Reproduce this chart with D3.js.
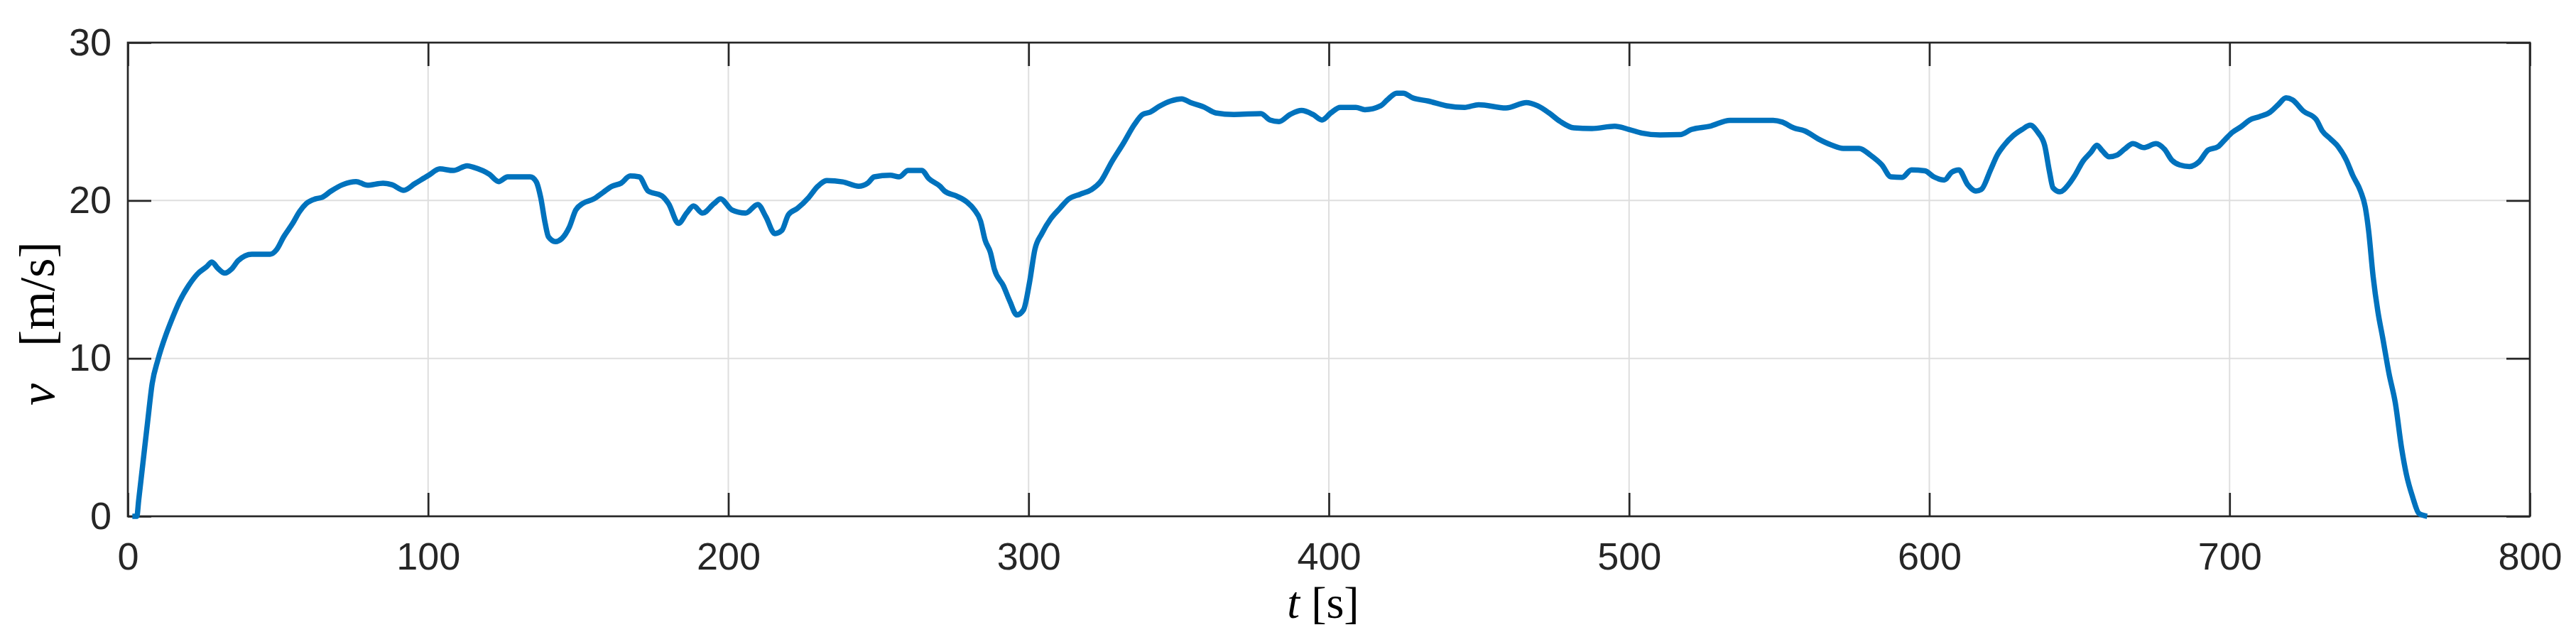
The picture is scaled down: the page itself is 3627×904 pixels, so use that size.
<!DOCTYPE html>
<html>
<head>
<meta charset="utf-8">
<script src="https://cdn.jsdelivr.net/npm/d3@7"></script>
<style>
  html, body { margin: 0; padding: 0; background: #fff; }
</style>
</head>
<body>
<div id="chart"></div>
<script>
// speed profile
const time = [1.5, 3.0, 3.6, 5.1, 6.6, 8.1, 10, 12.7, 14.2, 17.2, 20.2, 23.2, 26.2, 28, 30, 32.3, 34.5, 36.8, 41.3, 47.4,
  49.6, 51.9, 54.9, 57.2, 59.4, 62.4, 64.7, 67.7, 71.5, 76, 79.8, 85, 88, 91.9, 95.6, 100.2, 103.9, 108.4, 113, 115.2,
  120.5, 123.5, 126.5, 134, 136, 137.5, 139, 140.1, 142.4, 144.6, 147, 149.2, 151.4, 155.2, 158.2, 161.2, 164.3, 167.3, 170.3, 173.3,
  177.8, 180.1, 183.4, 186.1, 188.4, 191.4, 195.2, 197.4, 201.2, 205.7, 209.8, 212.5, 215.5, 217.8, 220, 223, 226.8, 229.8, 232.8, 238.1,
  243.4, 246.4, 248.6, 253.9, 256.9, 259.9, 264.5, 266.7, 270.5, 272, 275.8, 279.5, 281.8, 284, 285.5, 287.3, 288.6, 291.6, 293.8, 296.1,
  298.3, 300.3, 302.1, 304.4, 307.4, 310.4, 313.4, 317.2, 321, 324, 327.7, 331.5, 335.2, 338, 340.5, 343.5, 347.3, 351, 354, 358.6,
  362.3, 368.4, 377.4, 380.4, 383.4, 387.1, 390.9, 394.7, 397.7, 400.7, 403.8, 409, 412, 417.3, 419.6, 422.6, 424.8, 427.9, 433.1, 439.2,
  445.2, 449.9, 459, 465.8, 469.5, 473.3, 477.1, 481.6, 487.6, 495.2, 500, 504.2, 510.3, 517, 520.8, 526.8, 533.6, 548, 551, 554.8,
  558.6, 563, 567.6, 571.3, 576.6, 580.4, 584.2, 587.2, 591, 594, 598.5, 601.5, 605, 607.5, 609.8, 612.8, 615.5, 617.3, 620.4, 622.6,
  624.9, 627.9, 630.9, 633.6, 636.2, 638.4, 640, 641.2, 643.5, 646.3, 648.5, 651.2, 653.8, 655.8, 657.6, 659.9, 662.5, 665, 667.8, 671.4,
  675.5, 678.3, 680.8, 683.4, 686.6, 689.8, 692.9, 696.1, 698.2, 700.8, 704, 706.7, 709.8, 713.5, 716.2, 718.8, 720.9, 724.6, 728.8, 730.9,
  733.6, 736.2, 738.9, 741, 743.6, 745.2, 746.3, 747.8, 749.4, 751, 753.1, 755.2, 757.3, 758.9, 761, 763.1, 765.8];

const speed = [0, 0, 1.0, 3.5, 6.0, 8.4, 9.9, 11.5, 12.25, 13.6, 14.6, 15.35, 15.8, 16.1, 15.7, 15.4, 15.65, 16.2, 16.6, 16.6,
  16.9, 17.7, 18.55, 19.3, 19.8, 20.1, 20.2, 20.6, 21.0, 21.2, 20.97, 21.1, 21.0, 20.65, 21.07, 21.6, 22.0, 21.9, 22.2, 22.1,
  21.65, 21.2, 21.5, 21.5, 21.2, 20.2, 18.55, 17.7, 17.4, 17.6, 18.3, 19.4, 19.8, 20.1, 20.5, 20.9, 21.1, 21.55, 21.5, 20.6,
  20.3, 19.8, 18.55, 19.2, 19.65, 19.2, 19.8, 20.1, 19.4, 19.2, 19.75, 18.97, 17.9, 18.1, 19.1, 19.5, 20.2, 20.9, 21.26, 21.18,
  20.9, 21.1, 21.5, 21.6, 21.5, 21.9, 21.9, 21.4, 20.9, 20.6, 20.3, 19.9, 19.45, 18.7, 17.5, 16.7, 15.65, 14.6, 13.6, 12.75,
  13.07, 14.8, 16.9, 17.9, 18.85, 19.5, 20.1, 20.4, 20.7, 21.2, 22.45, 23.6, 24.8, 25.45, 25.6, 25.96, 26.3, 26.44, 26.2, 25.9,
  25.55, 25.45, 25.5, 25.1, 25.0, 25.45, 25.7, 25.45, 25.1, 25.55, 25.9, 25.9, 25.75, 26.0, 26.4, 26.8, 26.8, 26.5, 26.3, 26.0,
  25.9, 26.07, 25.86, 26.2, 26.0, 25.55, 25.0, 24.6, 24.56, 24.7, 24.5, 24.27, 24.15, 24.17, 24.5, 24.7, 25.08, 25.08, 24.97, 24.6,
  24.4, 23.9, 23.5, 23.3, 23.3, 22.87, 22.25, 21.5, 21.47, 21.94, 21.88, 21.5, 21.3, 21.8, 21.94, 21.0, 20.6, 20.7, 21.94, 22.87,
  23.5, 24.1, 24.5, 24.77, 24.3, 23.5, 21.84, 20.8, 20.55, 21.0, 21.6, 22.5, 23.05, 23.5, 23.15, 22.77, 22.88, 23.25, 23.6, 23.35,
  23.6, 23.25, 22.55, 22.25, 22.15, 22.45, 23.2, 23.4, 23.8, 24.3, 24.7, 25.1, 25.3, 25.6, 26.07, 26.5, 26.38, 25.66, 25.14, 24.4,
  23.9, 23.4, 22.55, 21.6, 20.6, 19.57, 18.1, 15.2, 12.96, 11.3, 9.04, 7.18, 4.3, 2.64, 1.2, 0.17, 0];

const xTicks = [0, 100, 200, 300, 400, 500, 600, 700, 800];
const yTicks = [0, 10, 20, 30];

const width = 3627;
const height = 904;
const margin = { top: 60, right: 65, bottom: 177, left: 180 };
const plotRight = width - margin.right;
const plotBottom = height - margin.bottom;

const axisColor = '#262626';
const tickLen = 33;

const svg = d3.select('#chart')
  .append('svg')
  .attr('width', width)
  .attr('height', height);

const x = d3.scaleLinear().domain([0, 800]).range([margin.left, plotRight]);
const y = d3.scaleLinear().domain([0, 30]).range([plotBottom, margin.top]);

// grid
svg.append('g')
  .selectAll('line')
  .data(xTicks.slice(1, -1))
  .join('line')
  .attr('x1', d => x(d)).attr('x2', d => x(d))
  .attr('y1', margin.top).attr('y2', plotBottom)
  .attr('stroke', '#dedede')
  .attr('stroke-width', 2);

svg.append('g')
  .selectAll('line')
  .data(yTicks.slice(1, -1))
  .join('line')
  .attr('x1', margin.left).attr('x2', plotRight)
  .attr('y1', d => y(d)).attr('y2', d => y(d))
  .attr('stroke', '#dedede')
  .attr('stroke-width', 2);

// axes, ticks pointing inwards like matlab
function styleAxis(g) {
  g.select('.domain').remove();
  g.selectAll('.tick line').attr('stroke', axisColor).attr('stroke-width', 2.7);
  g.selectAll('.tick text')
    .attr('fill', axisColor)
    .attr('font-family', '"Liberation Sans", Arial, Helvetica, sans-serif')
    .attr('font-size', 54);
}

svg.append('g')
  .attr('transform', `translate(0,${plotBottom})`)
  .call(d3.axisBottom(x).tickValues(xTicks).tickSize(-tickLen).tickPadding(37).tickFormat(d3.format('d')))
  .call(styleAxis);

svg.append('g')
  .attr('transform', `translate(0,${margin.top})`)
  .call(d3.axisTop(x).tickValues(xTicks).tickSize(-tickLen).tickFormat(''))
  .call(styleAxis);

svg.append('g')
  .attr('transform', `translate(${margin.left},0)`)
  .call(d3.axisLeft(y).tickValues(yTicks).tickSize(-tickLen).tickPadding(23).tickFormat(d3.format('d')))
  .call(styleAxis);

svg.append('g')
  .attr('transform', `translate(${plotRight},0)`)
  .call(d3.axisRight(y).tickValues(yTicks).tickSize(-tickLen).tickFormat(''))
  .call(styleAxis);

// box
svg.append('rect')
  .attr('x', margin.left)
  .attr('y', margin.top)
  .attr('width', plotRight - margin.left)
  .attr('height', plotBottom - margin.top)
  .attr('fill', 'none')
  .attr('stroke', axisColor)
  .attr('stroke-width', 2.7);

// speed line
const points = time.map((t, i) => [t, speed[i]]);
svg.append('path')
  .datum(points)
  .attr('fill', 'none')
  .attr('stroke', '#0072BD')
  .attr('stroke-width', 7.5)
  .attr('stroke-linejoin', 'round')
  .attr('d', d3.line()
    .x(d => x(d[0]))
    .y(d => y(d[1]))
    .curve(d3.curveMonotoneX));

// axis labels
const serif = '"Liberation Serif", "Times New Roman", Times, serif';

const xLabel = svg.append('text')
  .attr('x', (margin.left + plotRight) / 2 - 8)
  .attr('y', 870)
  .attr('text-anchor', 'middle')
  .attr('font-family', serif)
  .attr('font-size', 64)
  .attr('fill', '#000');
xLabel.append('tspan').attr('font-style', 'italic').text('t');
xLabel.append('tspan').text(' [s]');

const yLabel = svg.append('text')
  .attr('transform', 'translate(76,571) rotate(-90)')
  .attr('text-anchor', 'start')
  .attr('font-family', serif)
  .attr('font-size', 70)
  .attr('fill', '#000');
yLabel.append('tspan').attr('font-style', 'italic').text('v');
yLabel.append('tspan').attr('dx', 52).text('[m/s]');
</script>
</body>
</html>
